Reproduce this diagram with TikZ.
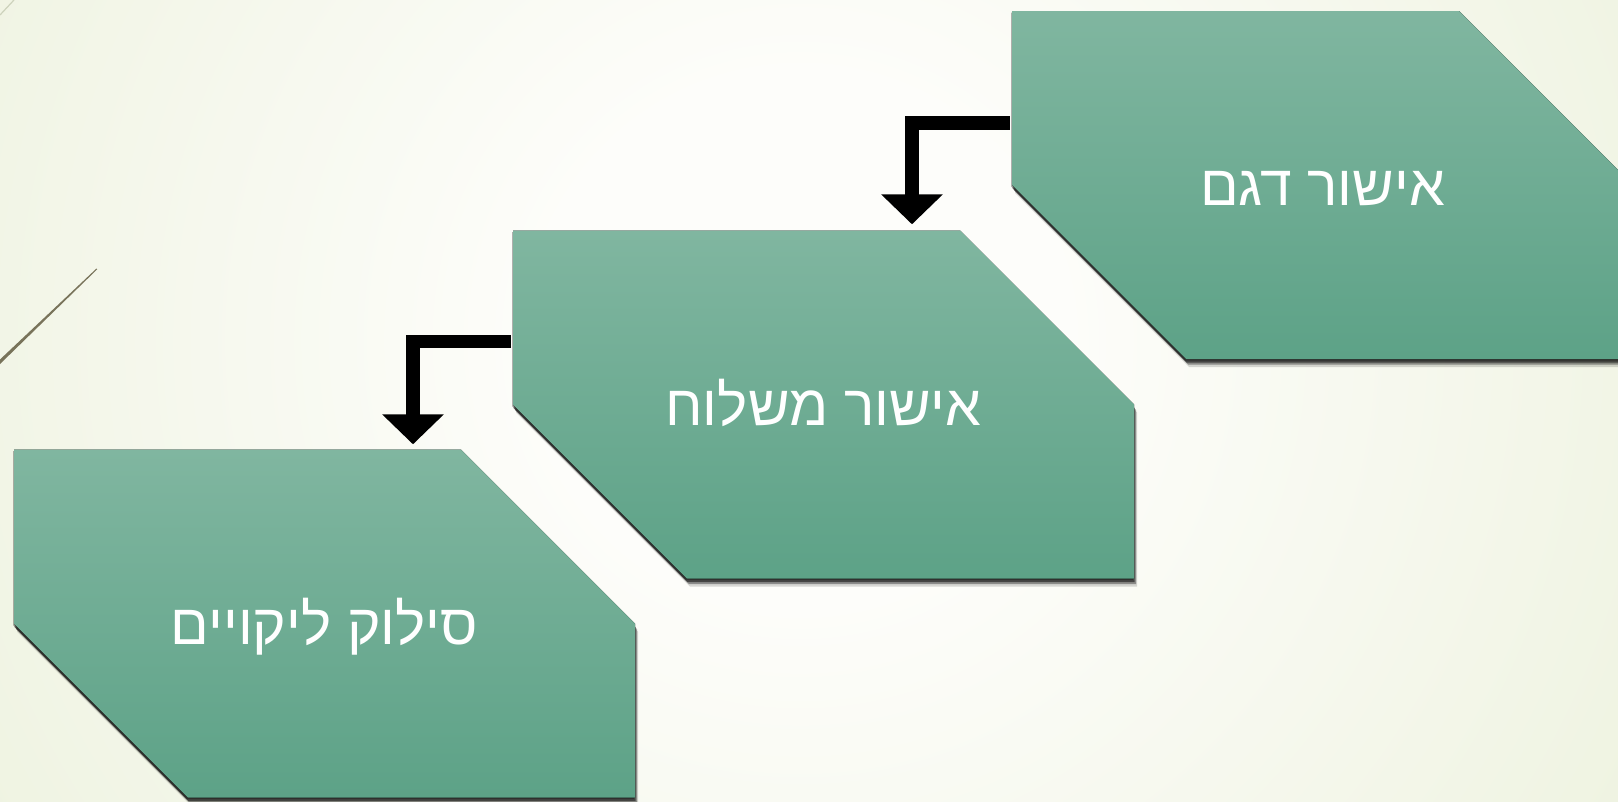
\documentclass[tikz,border=0pt]{standalone}
\usepackage{fontspec}
\newfontfamily\hebfont[Script=Hebrew]{Liberation Sans}
\TeXXeTstate=1
\usetikzlibrary{arrows.meta,calc}
\pgfdeclarelayer{bg}
\pgfdeclarelayer{background}
\pgfsetlayers{bg,background,main}
\definecolor{bgedge}{RGB}{233,239,215}
\definecolor{bgmid}{RGB}{253,253,250}
\definecolor{hextop}{RGB}{128,182,160}
\definecolor{hexbot}{RGB}{93,162,135}
\definecolor{deco}{RGB}{120,115,90}
\definecolor{decofaint}{RGB}{205,210,188}
\pgfdeclareradialshading{bgshade}{\pgfpoint{0bp}{0bp}}{color(0bp)=(bgmid); color(6bp)=(bgmid); color(28bp)=(bgedge); color(50bp)=(bgedge)}
\tikzset{
  stepnode/.style={minimum width=621pt, minimum height=348pt, inner sep=0pt,
    text=white, font=\hebfont\fontsize{57}{63}\selectfont,
    text height=41pt, text depth=0pt},
  flow/.style={draw=black, line width=13.5pt, line join=miter,
    -{Triangle[width=60pt,length=30pt]}},
  hexfill/.style={top color=hextop, bottom color=hexbot, draw=none},
  hexshadow/.style={fill=black, draw=none}
}
\newcommand\drawhex[3]{\fill[#1, shift={(#2,#3)}] (-310.5,-174) -- (136.5,-174) -- (310.5,0) -- (310.5,174) -- (-136.5,174) -- (-310.5,0) -- cycle;}
\begin{document}
\begin{tikzpicture}[x=1pt,y=-1pt]
\useasboundingbox (0,0) rectangle (1618,801);
\begin{pgfonlayer}{bg}
  \clip (0,0) rectangle (1618,801);
  \fill[bgedge] (0,0) rectangle (1618,801);
  \fill[shading=bgshade] (800,340) circle (1100pt);
  \fill[deco] (0,359.5) -- (96.5,268.5) -- (97.2,269.3) -- (0,364) -- cycle;
  \draw[decofaint, line width=1.2pt] (0,15) -- (14,0);
\end{pgfonlayer}
\begin{pgfonlayer}{background}
  \foreach \cx/\cy in {1322.5/185, 823.5/404.5, 324.5/623.5} {
    \drawhex{hexshadow, opacity=0.15}{\cx+3}{\cy+8}
    \drawhex{hexshadow, opacity=0.35}{\cx+2}{\cy+5.5}
    \drawhex{hexshadow, opacity=0.5}{\cx+0.5}{\cy+3.5}
    \drawhex{hexshadow, opacity=0.3}{\cx-1}{\cy+1.5}
    \drawhex{hexfill}{\cx}{\cy}
  }
\end{pgfonlayer}
\node[stepnode] (s1) at (1322.5,185) {\beginR אישור דגם\endR};
\node[stepnode] (s2) at (823.5,404.5) {\beginR אישור משלוח\endR};
\node[stepnode] (s3) at (324.5,623.5) {\beginR סילוק ליקויים\endR};
\draw[flow] ([xshift=-2pt,yshift=62pt]s1.west) -| ([xshift=88.5pt,yshift=6pt]s2.north);
\draw[flow] ([xshift=-2pt,yshift=63pt]s2.west) -| ([xshift=88.5pt,yshift=5pt]s3.north);
\end{tikzpicture}
\end{document}
